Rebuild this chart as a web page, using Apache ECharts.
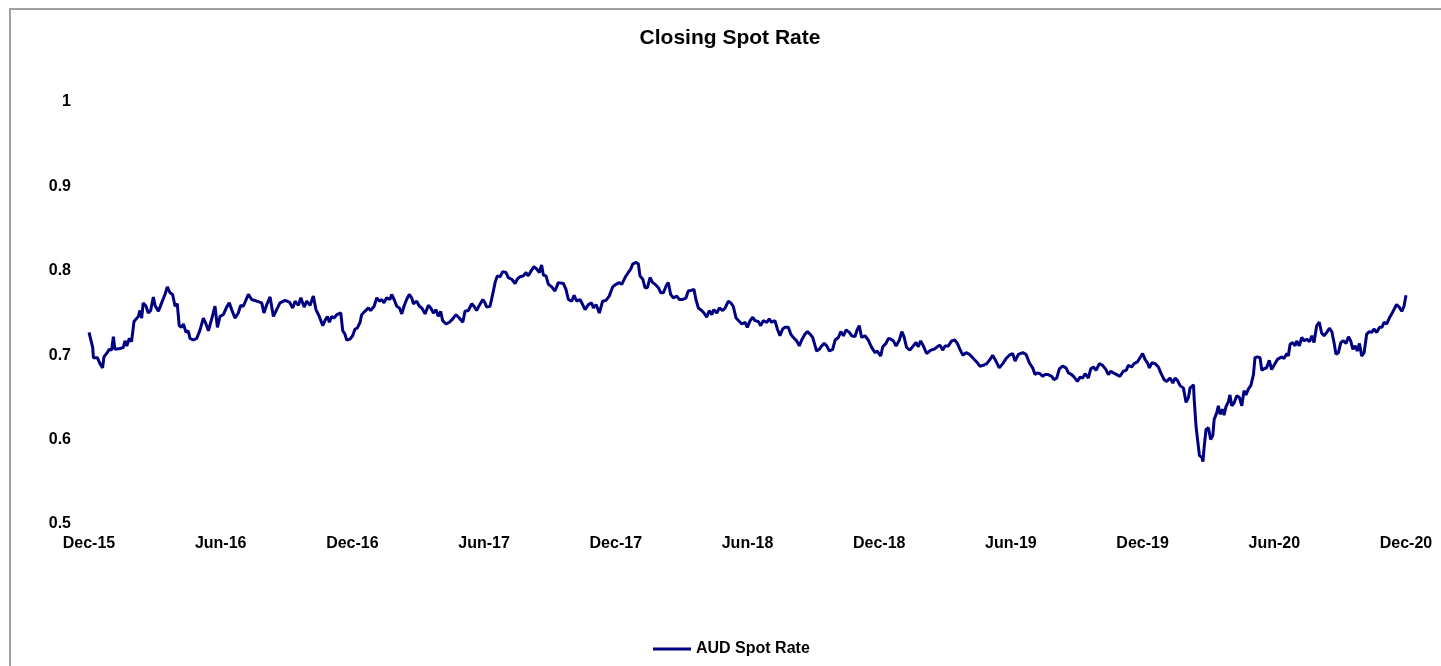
<!DOCTYPE html>
<html>
<head>
<meta charset="utf-8">
<script src="https://cdn.jsdelivr.net/npm/echarts/dist/echarts.min.js"></script>
<style>
html,body{margin:0;padding:0;background:#fff;}
#chart{width:1441px;height:666px;}
</style>
</head>
<body>
<div id="chart"></div>
<script>
// Tick labels of the time axis (one every 6 months, starting Dec-15)
const tickLabels = ['Dec-15','Jun-16','Dec-16','Jun-17','Dec-17','Jun-18','Dec-18','Jun-19','Dec-19','Jun-20','Dec-20'];
const yTicks = [0.5, 0.6, 0.7, 0.8, 0.9, 1];
const chartTitle = 'Closing Spot Rate';
const seriesName = 'AUD Spot Rate';

// [months since Dec-15, AUD spot rate]
const ratesDec15toOct16 = [
[0,0.727],[0.17,0.709],[0.20,0.697],[0.38,0.697],[0.50,0.690],[0.62,0.685],[0.68,0.698],[0.83,0.703],[0.92,0.707],[1.03,0.706],[1.11,0.722],[1.18,0.707],[1.41,0.708],[1.56,0.709],[1.64,0.717],[1.72,0.711],[1.84,0.720],[1.94,0.716],[2.05,0.740],[2.25,0.746],[2.32,0.753],[2.40,0.744],[2.47,0.762],[2.60,0.758],[2.70,0.750],[2.81,0.753],[2.93,0.769],[3.01,0.759],[3.16,0.752],[3.31,0.762],[3.46,0.772],[3.57,0.781],[3.69,0.774],[3.81,0.772],[3.92,0.758],[4.02,0.761],[4.11,0.735],[4.22,0.733],[4.30,0.737],[4.42,0.727],[4.52,0.729],[4.60,0.720],[4.75,0.718],[4.91,0.720],[5.06,0.730],[5.21,0.744],[5.33,0.737],[5.44,0.729],[5.59,0.743],[5.74,0.758],[5.85,0.733],[5.97,0.746],[6.12,0.748],[6.27,0.757],[6.39,0.762],[6.50,0.754],[6.65,0.744],[6.80,0.750],[6.91,0.759],[7.03,0.758],[7.26,0.772],[7.41,0.766],[7.64,0.764],[7.87,0.762],[7.97,0.750],[8.10,0.760],[8.25,0.769],[8.40,0.746],[8.55,0.754],[8.70,0.762],[8.93,0.765],[9.13,0.763],[9.28,0.756],[9.39,0.764],[9.54,0.759],[9.65,0.768],[9.80,0.757],[9.92,0.764],[10.07,0.759],[10.22,0.770],[10.34,0.754],[10.49,0.746]
];
const ratesNov16toSep17 = [
[10.65,0.735],[10.75,0.741],[10.86,0.746],[10.95,0.739],[11.06,0.746],[11.16,0.744],[11.29,0.748],[11.36,0.746],[11.47,0.750],[11.56,0.729],[11.66,0.725],[11.74,0.718],[11.89,0.719],[12.01,0.723],[12.12,0.731],[12.22,0.732],[12.35,0.739],[12.42,0.748],[12.57,0.752],[12.73,0.756],[12.83,0.753],[12.99,0.758],[13.11,0.768],[13.23,0.764],[13.34,0.766],[13.44,0.762],[13.56,0.768],[13.71,0.766],[13.79,0.772],[13.90,0.766],[14.02,0.758],[14.14,0.756],[14.25,0.749],[14.35,0.758],[14.47,0.766],[14.59,0.772],[14.70,0.768],[14.78,0.761],[14.93,0.764],[15.05,0.758],[15.16,0.756],[15.31,0.749],[15.46,0.759],[15.57,0.756],[15.69,0.750],[15.81,0.754],[15.91,0.746],[16.02,0.752],[16.11,0.741],[16.27,0.737],[16.42,0.739],[16.57,0.743],[16.72,0.748],[16.87,0.744],[17.03,0.739],[17.13,0.752],[17.28,0.753],[17.44,0.761],[17.54,0.758],[17.66,0.753],[17.78,0.759],[17.94,0.766],[18.04,0.762],[18.12,0.757],[18.27,0.758],[18.39,0.772],[18.50,0.786],[18.60,0.794],[18.73,0.793],[18.85,0.799],[19.00,0.798],[19.10,0.792],[19.26,0.790],[19.41,0.785],[19.51,0.790],[19.64,0.793],[19.79,0.794],[19.91,0.798],[20.01,0.794],[20.12,0.799],[20.27,0.805],[20.40,0.802],[20.52,0.798],[20.62,0.807],[20.70,0.795],[20.82,0.794],[20.93,0.784],[21.08,0.781],[21.23,0.776],[21.38,0.786]
];
const ratesSep17toAug18 = [
[21.46,0.786],[21.61,0.785],[21.73,0.778],[21.84,0.766],[21.99,0.764],[22.10,0.771],[22.22,0.764],[22.37,0.766],[22.49,0.760],[22.60,0.754],[22.75,0.760],[22.90,0.762],[22.98,0.756],[23.10,0.760],[23.25,0.750],[23.40,0.764],[23.55,0.765],[23.70,0.770],[23.86,0.781],[24.01,0.784],[24.16,0.786],[24.27,0.784],[24.42,0.792],[24.57,0.798],[24.68,0.802],[24.77,0.808],[24.92,0.810],[25.03,0.808],[25.10,0.794],[25.23,0.790],[25.33,0.780],[25.44,0.780],[25.56,0.792],[25.68,0.786],[25.79,0.784],[25.94,0.780],[26.05,0.774],[26.17,0.774],[26.29,0.782],[26.39,0.786],[26.50,0.772],[26.62,0.768],[26.78,0.770],[26.89,0.766],[27.05,0.766],[27.20,0.768],[27.30,0.776],[27.46,0.777],[27.56,0.778],[27.65,0.766],[27.76,0.756],[27.91,0.753],[28.02,0.750],[28.14,0.745],[28.26,0.753],[28.37,0.748],[28.47,0.754],[28.60,0.750],[28.72,0.756],[28.87,0.753],[28.98,0.756],[29.13,0.764],[29.24,0.762],[29.35,0.758],[29.48,0.744],[29.63,0.740],[29.74,0.737],[29.89,0.739],[29.99,0.733],[30.12,0.741],[30.24,0.745],[30.34,0.741],[30.49,0.740],[30.60,0.735],[30.72,0.741],[30.88,0.739],[30.99,0.743],[31.10,0.739],[31.25,0.741],[31.36,0.731],[31.48,0.723],[31.60,0.731],[31.71,0.733],[31.86,0.733],[31.97,0.725],[32.09,0.721],[32.24,0.717],[32.36,0.711]
];
const ratesAug18toJul19 = [
[32.47,0.718],[32.62,0.725],[32.73,0.728],[32.85,0.725],[32.97,0.721],[33.08,0.711],[33.15,0.705],[33.27,0.707],[33.38,0.711],[33.49,0.714],[33.61,0.711],[33.73,0.705],[33.88,0.707],[33.99,0.718],[34.14,0.721],[34.25,0.728],[34.37,0.723],[34.49,0.730],[34.64,0.727],[34.75,0.723],[34.90,0.722],[34.98,0.729],[35.09,0.735],[35.20,0.721],[35.35,0.723],[35.50,0.718],[35.66,0.709],[35.81,0.703],[35.91,0.705],[36.07,0.699],[36.16,0.710],[36.31,0.714],[36.42,0.720],[36.53,0.719],[36.64,0.717],[36.77,0.711],[36.92,0.718],[37.03,0.728],[37.13,0.722],[37.25,0.709],[37.40,0.706],[37.55,0.711],[37.68,0.715],[37.78,0.710],[37.89,0.717],[38.01,0.711],[38.16,0.702],[38.35,0.706],[38.50,0.707],[38.65,0.710],[38.77,0.712],[38.89,0.706],[39.00,0.711],[39.15,0.711],[39.30,0.717],[39.45,0.718],[39.56,0.714],[39.68,0.707],[39.81,0.700],[39.96,0.703],[40.11,0.701],[40.26,0.697],[40.44,0.692],[40.59,0.687],[40.74,0.688],[40.90,0.690],[41.05,0.695],[41.17,0.700],[41.32,0.693],[41.47,0.685],[41.63,0.690],[41.78,0.696],[41.93,0.700],[42.08,0.702],[42.19,0.693],[42.34,0.701],[42.54,0.703],[42.69,0.701],[42.84,0.691],[42.99,0.685],[43.10,0.677],[43.20,0.679]
];
const ratesJul19toJun20 = [
[43.33,0.678],[43.45,0.675],[43.55,0.677],[43.70,0.677],[43.86,0.675],[43.96,0.671],[44.09,0.673],[44.21,0.684],[44.36,0.687],[44.51,0.685],[44.62,0.679],[44.77,0.677],[44.88,0.674],[45.03,0.669],[45.15,0.674],[45.27,0.673],[45.38,0.678],[45.53,0.673],[45.64,0.684],[45.76,0.686],[45.88,0.682],[46.03,0.690],[46.18,0.688],[46.33,0.683],[46.44,0.677],[46.55,0.681],[46.67,0.679],[46.82,0.677],[46.97,0.675],[47.12,0.681],[47.25,0.682],[47.35,0.688],[47.50,0.686],[47.61,0.690],[47.76,0.692],[47.88,0.697],[48.00,0.702],[48.11,0.695],[48.22,0.691],[48.31,0.685],[48.42,0.691],[48.57,0.690],[48.72,0.686],[48.83,0.679],[48.98,0.671],[49.10,0.669],[49.25,0.673],[49.38,0.667],[49.48,0.673],[49.59,0.670],[49.71,0.664],[49.86,0.661],[49.98,0.644],[50.09,0.650],[50.16,0.661],[50.32,0.665],[50.35,0.648],[50.44,0.614],[50.50,0.612],[50.59,0.581],[50.70,0.579],[50.75,0.574],[50.80,0.590],[50.89,0.612],[51.00,0.614],[51.10,0.600],[51.20,0.605],[51.26,0.624],[51.38,0.632],[51.45,0.640],[51.53,0.630],[51.65,0.636],[51.71,0.629],[51.80,0.639],[51.91,0.645],[51.98,0.653],[52.06,0.640],[52.16,0.643],[52.29,0.652],[52.41,0.650],[52.52,0.640],[52.62,0.658],[52.71,0.653],[52.82,0.660],[52.93,0.664],[53.05,0.677],[53.12,0.697],[53.23,0.698],[53.35,0.697],[53.43,0.682],[53.53,0.684],[53.65,0.685],[53.77,0.694],[53.88,0.683],[54.03,0.690],[54.14,0.695],[54.23,0.697]
];
const ratesJun20toDec20 = [
[54.34,0.698],[54.44,0.696],[54.57,0.702],[54.64,0.699],[54.72,0.713],[54.84,0.715],[54.95,0.711],[55.02,0.717],[55.14,0.711],[55.25,0.721],[55.36,0.717],[55.48,0.719],[55.60,0.716],[55.71,0.723],[55.81,0.715],[55.93,0.735],[56.05,0.739],[56.16,0.726],[56.27,0.723],[56.39,0.727],[56.51,0.732],[56.62,0.728],[56.72,0.715],[56.81,0.701],[56.92,0.703],[57.03,0.715],[57.15,0.717],[57.27,0.714],[57.38,0.722],[57.48,0.717],[57.58,0.707],[57.68,0.711],[57.78,0.705],[57.88,0.714],[57.98,0.699],[58.09,0.703],[58.21,0.725],[58.33,0.728],[58.44,0.727],[58.54,0.731],[58.67,0.727],[58.79,0.733],[58.90,0.733],[59.00,0.739],[59.12,0.737],[59.24,0.744],[59.35,0.749],[59.45,0.754],[59.57,0.760],[59.69,0.757],[59.81,0.752],[59.91,0.758],[59.96,0.756],[60.00,0.771]
];

const series = [].concat(ratesDec15toOct16, ratesNov16toSep17, ratesSep17toAug18,
  ratesAug18toJul19, ratesJul19toJun20, ratesJun20toDec20);

const font = "'Liberation Sans', Arial, sans-serif";
const chart = echarts.init(document.getElementById('chart'));
chart.setOption({
  animation: false,
  backgroundColor: '#fff',
  graphic: [{
    type: 'rect', z: -10,
    shape: { x: 10, y: 9, width: 1500, height: 720 },
    style: { fill: 'none', stroke: '#a0a0a0', lineWidth: 2 }
  }],
  title: {
    text: chartTitle,
    left: 725, top: 23, textAlign: 'center',
    textStyle: { fontFamily: font, fontSize: 21, fontWeight: 'bold', color: '#000' }
  },
  legend: {
    data: [seriesName],
    left: 648, top: 636,
    icon: 'rect', itemWidth: 38, itemHeight: 3,
    textStyle: { fontFamily: font, fontSize: 16, fontWeight: 'bold', color: '#000' }
  },
  grid: { left: 89, right: 35, top: 102, bottom: 142, containLabel: false },
  xAxis: {
    type: 'value', min: 0, max: 60, interval: 6,
    axisLine: { show: false }, axisTick: { show: false }, splitLine: { show: false },
    axisLabel: {
      margin: 12, fontFamily: font, fontSize: 16, fontWeight: 'bold', color: '#000',
      formatter: v => tickLabels[Math.round(v / 6)] || ''
    }
  },
  yAxis: {
    type: 'value', min: yTicks[0], max: yTicks[yTicks.length - 1], interval: 0.1,
    axisLine: { show: false }, axisTick: { show: false }, splitLine: { show: false },
    axisLabel: {
      margin: 18, fontFamily: font, fontSize: 16, fontWeight: 'bold', color: '#000',
      formatter: v => String(Math.round(v * 10) / 10)
    }
  },
  series: [{
    name: seriesName, type: 'line', data: series,
    showSymbol: false, symbol: 'none',
    lineStyle: { color: '#000080', width: 3 }, itemStyle: { color: '#000080' }
  }]
});
</script>
</body>
</html>
